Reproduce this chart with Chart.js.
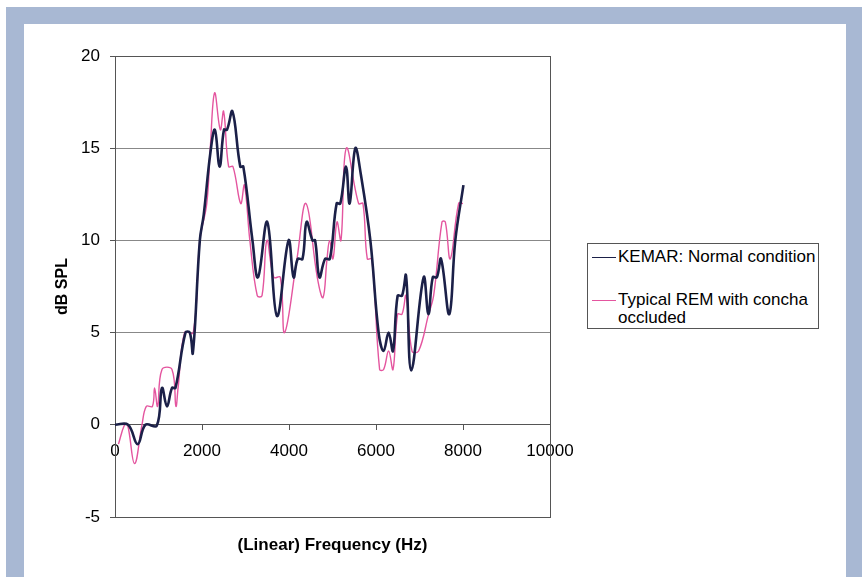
<!DOCTYPE html>
<html lang="en">
<head>
  <meta charset="UTF-8">
  <title>KEMAR vs REM</title>
  <script src="https://cdn.jsdelivr.net/npm/chart.js"></script>
  <style>
    html, body {
      margin: 0;
      padding: 0;
      width: 865px;
      height: 577px;
      overflow: hidden;
      background: #fff;
      font-family: 'Liberation Sans', Arial, sans-serif;
    }
    .frame {
      position: absolute;
      left: 6px;
      top: 7px;
      width: 856px;
      height: 580px;
      background: #a8b8d3;
    }
    .panel {
      position: absolute;
      left: 24px;
      top: 24px;
      width: 822px;
      height: 560px;
      background: #fff;
    }
    canvas {
      position: absolute;
      left: 0;
      top: 0;
    }
    .legend {
      position: absolute;
      left: 587px;
      top: 243px;
      width: 230px;
      height: 84px;
      border: 1px solid #555;
      background: #fff;
      font-size: 17px;
      color: #000;
    }
    .legend .item {
      position: absolute;
      left: 4px;
      line-height: 18px;
    }
    .legend .swatch {
      position: absolute;
      left: 0;
      top: 9px;
      width: 24px;
    }
    .legend .label {
      margin-left: 26px;
      white-space: nowrap;
    }
  </style>
</head>
<body>
  <div class="frame"></div>
  <div class="panel"></div>
  <canvas id="remChart" width="865" height="577"></canvas>
  <div class="legend">
    <div class="item" style="top: 4px;">
      <div class="swatch" style="border-top: 1.5px solid #1b2048;"></div>
      <div class="label">KEMAR: Normal condition</div>
    </div>
    <div class="item" style="top: 47px;">
      <div class="swatch" style="border-top: 1.5px solid #e4559f;"></div>
      <div class="label">Typical REM with concha<br>occluded</div>
    </div>
  </div>

<script>
  // KEMAR: normal condition
  const kemarFreq = [0, 300, 520, 700, 960, 1080, 1195, 1310, 1390, 1620, 1720, 1790, 1950, 2040, 2190,
    2295, 2405, 2505, 2575, 2700, 2880, 2950, 3160, 3287, 3500, 3724, 3990, 4106, 4200, 4310,
    4405, 4540, 4600, 4700, 4830, 4940, 5095, 5180, 5310, 5394, 5524, 5650, 5870, 6060, 6175,
    6290, 6391, 6497, 6598, 6690, 6811, 7095, 7205, 7305, 7400, 7495, 7685, 7823, 8010];
  const kemarLevel = [0, 0, -1.05, 0, -0.05, 2, 1, 2, 2, 5, 5, 3.9, 10, 11.4, 14.7,
    16, 14, 16, 16, 17, 14, 14, 10, 8, 11, 5.9, 10, 8, 9, 9,
    11, 10, 10, 8, 9, 9, 12, 12, 14, 12, 15, 13.6, 10, 5, 4,
    5, 4, 7, 7, 8.1, 2.95, 8, 6, 8, 8, 9, 6, 10, 13];

  // Typical REM with concha occluded
  const remFreq = [80, 220, 290, 450, 620, 720, 860, 910, 980, 1080, 1310, 1400, 1450, 1600, 1800,
    1950, 2110, 2190, 2290, 2421, 2497, 2612, 2712, 2890, 2975, 3100, 3270, 3380, 3494, 3650,
    3800, 3899, 4183, 4390, 4650, 4782, 4874, 4934, 5011, 5103, 5195, 5317, 5600, 5700, 5800,
    5905, 6083, 6175, 6290, 6391, 6497, 6598, 6690, 6828, 6980, 7210, 7325, 7517, 7593, 7708,
    7900, 8000];
  const remLevel = [-1.05, 0, 0, -2.1, 0, 1, 1, 2, 1, 3, 3, 1, 2, 5, 5,
    10, 12, 15, 18, 16, 17, 14, 14, 12, 13, 10, 7, 7, 10, 8,
    8, 5, 9, 12, 8, 6.9, 9, 10, 9, 11, 10, 15, 12, 12, 9,
    9, 3, 3, 4, 3, 6, 6, 7, 4, 4, 6, 7, 11, 11, 9,
    12, 12];

  const xTicks = [0, 2000, 4000, 6000, 8000, 10000];
  const yTicks = [-5, 0, 5, 10, 15, 20];

  const toPoints = (fs, vs) => fs.map((f, i) => ({ x: f, y: vs[i] }));

  Chart.defaults.font.family = "'Liberation Sans', Arial, sans-serif";
  Chart.defaults.color = '#000';

  const ctx = document.getElementById('remChart').getContext('2d');

  new Chart(ctx, {
    type: 'line',
    data: {
      datasets: [{
        label: 'KEMAR: Normal condition',
        data: toPoints(kemarFreq, kemarLevel),
        borderColor: '#1b2048',
        borderWidth: 2.6,
        tension: 0.4,
        pointRadius: 0
      }, {
        label: 'Typical REM with concha occluded',
        data: toPoints(remFreq, remLevel),
        borderColor: '#e4559f',
        borderWidth: 1.4,
        tension: 0.4,
        pointRadius: 0
      }]
    },
    options: {
      responsive: false,
      animation: false,
      layout: {
        padding: { left: 40, top: 56, right: 315, bottom: 0 }
      },
      plugins: {
        legend: { display: false },
        tooltip: { enabled: false }
      },
      scales: {
        x: {
          type: 'linear',
          position: 'bottom',
          min: xTicks[0],
          max: xTicks[xTicks.length - 1],
          ticks: { display: false },
          grid: { display: false },
          border: { display: false },
          title: {
            display: true,
            text: '(Linear) Frequency (Hz)',
            font: { size: 17, weight: 'bold' },
            padding: { top: 0, bottom: 21 }
          },
          afterFit: scale => { scale.height = 60; }
        },
        x2: {
          type: 'linear',
          position: { y: 0 },
          min: xTicks[0],
          max: xTicks[xTicks.length - 1],
          afterBuildTicks: scale => { scale.ticks = xTicks.map(v => ({ value: v })); },
          ticks: { font: { size: 17 }, padding: 11, maxRotation: 0, callback: v => String(v) },
          grid: { drawOnChartArea: false, tickLength: 5, color: '#555' },
          border: { display: true, color: '#555', width: 1 }
        },
        y: {
          type: 'linear',
          min: yTicks[0],
          max: yTicks[yTicks.length - 1],
          afterBuildTicks: scale => { scale.ticks = yTicks.map(v => ({ value: v })); },
          ticks: { font: { size: 17 }, padding: 10, callback: v => String(v) },
          grid: {
            color: c => (c.tick && (c.tick.value === -5 || c.tick.value === 20)) ? '#555' : '#888',
            tickColor: '#555',
            tickLength: 5
          },
          border: { display: true, color: '#555', width: 1 },
          title: {
            display: true,
            text: 'dB SPL',
            font: { size: 16, weight: 'bold' },
            padding: { top: 13, bottom: 0 }
          },
          afterFit: scale => { scale.width = 75; }
        },
        y2: {
          type: 'linear',
          position: 'right',
          ticks: { display: false },
          grid: { display: false },
          border: { display: true, color: '#555', width: 1 },
          afterFit: scale => { scale.width = 0; }
        }
      }
    }
  });
</script>

</body>
</html>
